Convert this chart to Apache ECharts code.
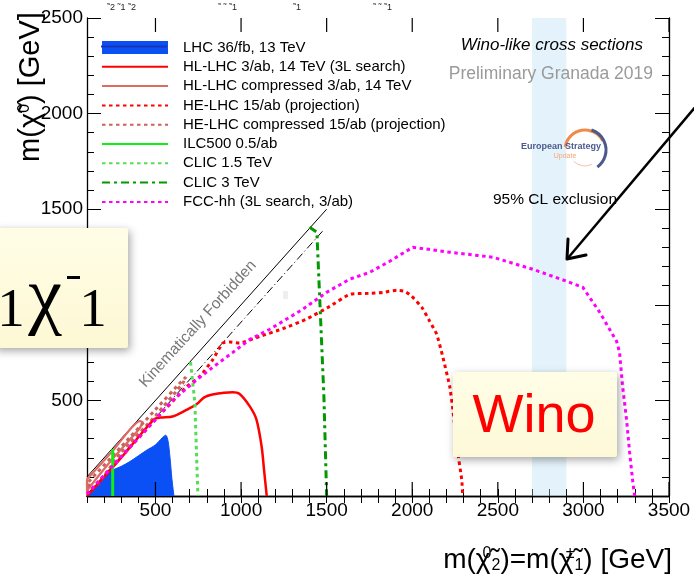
<!DOCTYPE html>
<html><head><meta charset="utf-8">
<script src="https://cdn.jsdelivr.net/npm/echarts@6/dist/echarts.min.js"></script>
<style>html,body{margin:0;padding:0;background:#fff}#c{width:694px;height:585px}</style>
</head><body><div id="c"></div>
<script>
// ---- data (GeV) ----
const xMajorTicks = [500, 1000, 1500, 2000, 2500, 3000, 3500];
const xRange = [100, 3500];
const yRange = [0, 2500];
const legendNames = ['LHC 36/fb, 13 TeV', 'HL-LHC 3/ab, 14 TeV (3L search)', 'HL-LHC compressed 3/ab, 14 TeV',
  'HE-LHC 15/ab (projection)', 'HE-LHC compressed 15/ab (projection)', 'ILC500 0.5/ab', 'CLIC 1.5 TeV', 'CLIC 3 TeV',
  'FCC-hh (3L search, 3/ab)'];
const kinLimit = [[100,100],[1500,1500]];
const mzLine = [[100,9],[1482,1391]];
const lhc36 = [[100,0],[150,50],[180,80],[220,115],[250,135],[300,155],[350,180],[400,210],[450,240],[500,268],[540,305],[560,318],[573,290],[585,200],[596,90],[608,0]];
const hlLhc3L = [[100,0],[300,200],[490,400],[530,410],[600,416],[680,450],[740,480],[785,516],[840,532],[900,540],[950,543],[990,535],[1050,470],[1090,400],[1120,260],[1135,130],[1150,0]];
const hlLhcComp = [[100,88],[250,236],[409,392],[425,386],[400,345],[250,195],[110,40],[100,22],[100,88]];
const heLhc = [[100,10],[300,205],[500,400],[684,573],[760,626],[836,715],[894,800],[935,806],[990,800],[1110,835],[1244,875],[1384,926],[1519,992],[1635,1055],[1752,1060],[1828,1065],[1910,1076],[1956,1071],[1997,1045],[2056,987],[2102,914],[2143,846],[2178,730],[2219,573],[2237,453],[2266,228],[2289,86],[2295,0]];
const heLhcComp = [[110,75],[300,258],[500,452],[650,598],[678,622],[660,590],[500,420],[300,228],[120,32],[110,75]];
const ilc500 = [[250,0],[250,245]];
const clic15 = [[705,700],[730,490],[748,0]];
const clic3 = [[1400,1405],[1443,1380],[1484,520],[1500,0]];
const fccHh = [[100,10],[300,205],[500,400],[600,500],[730,600],[818,662],[952,751],[1051,819],[1168,872],[1361,977],[1501,1066],[1635,1134],[1752,1170],[1869,1228],[2003,1301],[2219,1275],[2470,1249],[2704,1186],[2902,1123],[2996,1092],[3095,961],[3194,809],[3211,752],[3229,573],[3252,401],[3270,228],[3287,86],[3299,0]];
const bandRange = [2700, 2900];

const FONT = "'Liberation Sans', Arial, Helvetica, sans-serif";
const SERIF = "'Liberation Serif', 'Times New Roman', serif";
const chart = echarts.init(document.getElementById('c'), null, {renderer: 'canvas'});

function ln(name, data, color, width, type, extra) {
  return Object.assign({
    name: name, type: 'line', data: data, xAxisIndex: 0, yAxisIndex: 0,
    symbol: 'none', silent: true, animation: false, z: 3,
    lineStyle: {color: color, width: width, type: type || 'solid'},
    itemStyle: {color: color}
  }, extra || {});
}
const dotted = [3.5, 3.5];

const option = {
  animation: false,
  backgroundColor: '#fff',
  grid: {left: 87, right: 25, top: 18, bottom: 89},
  xAxis: [
    {type: 'value', position: 'bottom', min: xRange[0], max: xRange[1], interval: 100,
     axisLine: {lineStyle: {color: '#000', width: 1.3}},
     axisTick: {inside: true, length: 7, lineStyle: {color: '#000'}},
     axisLabel: {color: '#000', fontSize: 19, fontFamily: FONT, margin: 5, showMaxLabel: true,
       formatter: v => (xMajorTicks.indexOf(v) >= 0 ? String(v) : '')},
     splitLine: {show: false}},
    {type: 'value', position: 'top', min: xRange[0], max: xRange[1], interval: 100,
     axisLine: {lineStyle: {color: '#000', width: 1.3}},
     axisTick: {inside: true, length: 7, lineStyle: {color: '#000'}},
     axisLabel: {show: false}, splitLine: {show: false}}
  ],
  yAxis: [
    {type: 'value', position: 'left', min: yRange[0], max: yRange[1], interval: 500,
     axisLine: {show: true, lineStyle: {color: '#000', width: 1.3}},
     axisTick: {show: true, inside: true, length: 14, lineStyle: {color: '#000'}},
     minorTick: {show: true, splitNumber: 5, length: 7, lineStyle: {color: '#000'}},
     axisLabel: {color: '#000', fontSize: 19, fontFamily: FONT, margin: 4,
       formatter: v => (v === 0 ? '' : String(v))},
     splitLine: {show: false}},
    {type: 'value', position: 'right', min: yRange[0], max: yRange[1], interval: 500,
     axisLine: {show: true, lineStyle: {color: '#000', width: 1.3}},
     axisTick: {show: true, inside: true, length: 14, lineStyle: {color: '#000'}},
     minorTick: {show: true, splitNumber: 5, length: 7, lineStyle: {color: '#000'}},
     axisLabel: {show: false}, splitLine: {show: false}}
  ],
  legend: {
    orient: 'vertical', left: 101, top: 40, padding: 0, itemGap: 4.3,
    itemWidth: 66, itemHeight: 13, selectedMode: false,
    itemStyle: {opacity: 0},
    textStyle: {color: '#000', fontSize: 15, fontFamily: FONT, padding: [0, 0, 0, 10]},
    data: [{name: legendNames[0], icon: 'rect', itemStyle: {opacity: 1}}].concat(legendNames.slice(1).map(n => ({name: n})))
  },
  series: [
    ln(legendNames[0], lhc36, '#0a50f5', 1, 'solid', {areaStyle: {color: '#0a50f5', opacity: 1}, smooth: 0.3, z: 2}),
    ln('kin', kinLimit, '#000', 1),
    ln('mz', mzLine, '#000', 1, [8, 3, 1, 3]),
    ln(legendNames[2], hlLhcComp, '#de6a63', 2.2, 'solid', {smooth: 0.2}),
    ln(legendNames[4], heLhcComp, '#cc625c', 3, dotted, {smooth: 0.2}),
    ln(legendNames[1], hlLhc3L, '#ff0000', 2.5, 'solid', {smooth: 0.3}),
    ln(legendNames[3], heLhc, '#ff0000', 3, dotted, {smooth: 0.15}),
    ln(legendNames[5], ilc500, '#11ee11', 3),
    ln(legendNames[6], clic15, '#55dd55', 3, dotted),
    ln(legendNames[7], clic3, '#009900', 3, [8, 4, 3, 4]),
    ln(legendNames[8], fccHh, '#ff00ff', 3, dotted),
    {type: 'line', name: 'band', data: [], z: 10, silent: true,
     markArea: {silent: true, itemStyle: {color: 'rgba(185,222,245,0.38)'},
       data: [[{xAxis: bandRange[0]}, {xAxis: bandRange[1]}]]}},
    // major x ticks (bottom and top), positioned through the axis scale
    {type: 'custom', name: 'majorTicks', silent: true, clip: false, z: 4,
     data: xMajorTicks.map(v => [v, yRange[0]]),
     encode: {x: 0, y: 1},
     renderItem: (params, api) => {
       const b = api.coord([api.value(0), yRange[0]]);
       const t = api.coord([api.value(0), yRange[1]]);
       return {type: 'group', children: [
         {type: 'line', shape: {x1: b[0], y1: b[1], x2: b[0], y2: b[1] - 14}, style: {stroke: '#000', lineWidth: 1.2}},
         {type: 'line', shape: {x1: t[0], y1: t[1], x2: t[0], y2: t[1] + 14}, style: {stroke: '#000', lineWidth: 1.2}}
       ]};
     }}
  ],
  graphic: [
    // top cut-off title fragments
    {type: 'text', x: 107, y: 3, z: 5, style: {text: '˜2 ˜1 ˜2', fontSize: 9, fontFamily: FONT, fill: '#222'}},
    {type: 'text', x: 218, y: 3, z: 5, style: {text: '˜ ˜ ˜1', fontSize: 9, fontFamily: FONT, fill: '#222'}},
    {type: 'text', x: 293, y: 3, z: 5, style: {text: '˜1', fontSize: 9, fontFamily: FONT, fill: '#222'}},
    {type: 'text', x: 373, y: 3, z: 5, style: {text: '˜ ˜ ˜1', fontSize: 9, fontFamily: FONT, fill: '#222'}},
    // legend LHC band centre line
    {type: 'line', shape: {x1: 101, y1: 46.5, x2: 167, y2: 46.5}, z: 6, style: {stroke: '#1a34b8', lineWidth: 2}},
    // titles
    {type: 'text', x: 672, y: 560, z: 5, style: {
      text: '{a|m(χ̃}{s|0}{u|2}{a|)=m(χ̃}{s|±}{u|1}{a|) [GeV]}', align: 'right', verticalAlign: 'middle',
      rich: {a: {fontSize: 28, fontFamily: FONT, fill: '#000'},
             s: {fontSize: 16, fontFamily: FONT, fill: '#000', verticalAlign: 'top', width: 1},
             u: {fontSize: 16, fontFamily: FONT, fill: '#000', verticalAlign: 'bottom'}}}},
    {type: 'text', x: 31, y: 87, rotation: Math.PI / 2, z: 5, style: {
      text: '{a|m(χ̃}{s|0}{a|) [GeV]}', align: 'center', verticalAlign: 'middle',
      rich: {a: {fontSize: 29, fontFamily: FONT, fill: '#000'},
             s: {fontSize: 16, fontFamily: FONT, fill: '#000', verticalAlign: 'top'}}}},
    // annotations
    {type: 'text', x: 643, y: 45, z: 5, style: {text: 'Wino-like cross sections', align: 'right', verticalAlign: 'middle',
      fontSize: 17, fontStyle: 'italic', fontFamily: FONT, fill: '#000'}},
    {type: 'text', x: 653, y: 74, z: 5, style: {text: 'Preliminary Granada 2019', align: 'right', verticalAlign: 'middle',
      fontSize: 17.5, fontFamily: FONT, fill: '#9a9a9a'}},
    {type: 'text', x: 617, y: 200, z: 5, style: {text: '95% CL exclusion', align: 'right', verticalAlign: 'middle',
      fontSize: 15.5, fontFamily: FONT, fill: '#000'}},
    {type: 'text', x: 198, y: 324, rotation: 0.832, z: 5, style: {text: 'Kinematically Forbidden', align: 'center', verticalAlign: 'middle',
      fontSize: 15.5, fontFamily: FONT, fill: '#777'}},
    {type: 'rect', shape: {x: 283, y: 291, width: 5, height: 8}, z: 5, style: {fill: '#eeeeee'}},
    // logo
    {type: 'arc', shape: {cx: 585, cy: 150, r: 20, startAngle: Math.PI * 1.05, endAngle: Math.PI * 1.85}, z: 5,
      style: {stroke: '#f08a4b', lineWidth: 3, fill: null}},
    {type: 'arc', shape: {cx: 585, cy: 150, r: 21, startAngle: -Math.PI * 0.4, endAngle: Math.PI * 0.3}, z: 5,
      style: {stroke: '#4a5a8a', lineWidth: 3, fill: null}},
    {type: 'arc', shape: {cx: 585, cy: 150, r: 16, startAngle: Math.PI * 0.35, endAngle: Math.PI * 0.75}, z: 5,
      style: {stroke: '#f6c3a4', lineWidth: 1, fill: null}},
    {type: 'text', x: 561, y: 147, z: 6, style: {text: 'European Strategy', align: 'center', verticalAlign: 'middle',
      fontSize: 9, fontWeight: 'bold', fontFamily: FONT, fill: '#4c5a8c'}},
    {type: 'text', x: 565, y: 156, z: 6, style: {text: 'Update', align: 'center', verticalAlign: 'middle',
      fontSize: 7, fontFamily: FONT, fill: '#f2a57a'}},
    // arrow
    {type: 'line', shape: {x1: 702, y1: 99, x2: 568, y2: 258}, z: 6, style: {stroke: '#000', lineWidth: 2.5}},
    {type: 'polyline', shape: {points: [[568, 239], [567, 259], [586, 255]]}, z: 6,
      style: {stroke: '#000', lineWidth: 3, fill: null, lineJoin: 'round', lineCap: 'round'}},
    // left overlay box
    {type: 'rect', shape: {x: -6, y: 228, width: 134, height: 120, r: 2}, z: 7,
      style: {fill: {type: 'linear', x: 0, y: 0, x2: 0, y2: 1, colorStops: [{offset: 0, color: '#fffde6'}, {offset: 1, color: '#fdf8d4'}]},
        shadowBlur: 8, shadowColor: 'rgba(0,0,0,0.35)', shadowOffsetX: 2, shadowOffsetY: 3}},
    {type: 'text', x: 11, y: 339, z: 8, style: {text: '1', align: 'center', verticalAlign: 'bottom', fontSize: 55, fontFamily: SERIF, fill: '#000'}},
    {type: 'text', x: 45, y: 338, z: 8, style: {text: 'χ', align: 'center', verticalAlign: 'bottom', fontSize: 76, fontFamily: SERIF, fill: '#000'}},
    {type: 'rect', shape: {x: 67, y: 276, width: 13, height: 3}, z: 8, style: {fill: '#000'}},
    {type: 'text', x: 93, y: 339, z: 8, style: {text: '1', align: 'center', verticalAlign: 'bottom', fontSize: 55, fontFamily: SERIF, fill: '#000'}},
    // Wino box
    {type: 'rect', shape: {x: 453, y: 372, width: 164, height: 85, r: 2}, z: 7,
      style: {fill: {type: 'linear', x: 0, y: 0, x2: 0, y2: 1, colorStops: [{offset: 0, color: '#fffde6'}, {offset: 1, color: '#fdf9d8'}]},
        shadowBlur: 8, shadowColor: 'rgba(0,0,0,0.35)', shadowOffsetX: 2, shadowOffsetY: 3}},
    {type: 'text', x: 534, y: 417, z: 8, style: {text: 'Wino', align: 'center', verticalAlign: 'middle', fontSize: 54, fontFamily: FONT, fill: '#ff0000'}}
  ]
};
chart.setOption(option);
</script>
</body></html>
